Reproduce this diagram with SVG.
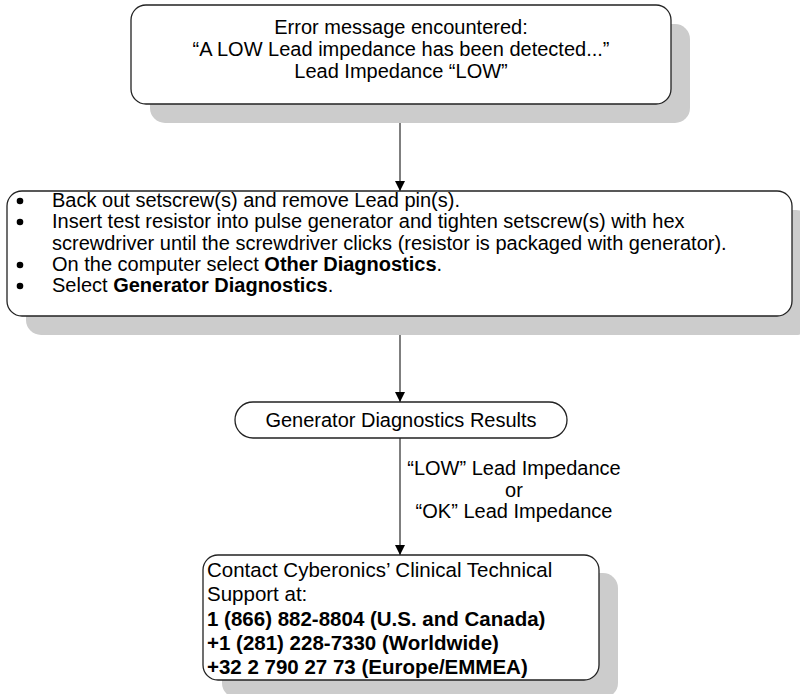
<svg xmlns="http://www.w3.org/2000/svg" width="800" height="694" viewBox="0 0 800 694">
<defs>
<style>
.box{fill:#fff;stroke:#222;stroke-width:1.3}
.sh{fill:#cccccc;stroke:none}
.t{font-family:"Liberation Sans",Arial,sans-serif;font-size:20px;fill:#000}
.t4{font-size:20.5px}
.c{text-anchor:middle}
.b{font-weight:bold}
.con{stroke:#555;stroke-width:1.5;fill:none}
</style>
<marker id="arr" markerWidth="12" markerHeight="12" refX="11" refY="6" orient="auto" markerUnits="userSpaceOnUse">
<path d="M1,1 L11,6 L1,11 Z" fill="#000"/>
</marker>
</defs>
<rect width="800" height="694" fill="#fff"/>
<g id="connectors">
<line class="con" x1="400" y1="104" x2="400" y2="191" marker-end="url(#arr)"/>
<line class="con" x1="400" y1="316" x2="400" y2="402" marker-end="url(#arr)"/>
<line class="con" x1="400" y1="438" x2="400" y2="555" marker-end="url(#arr)"/>
<text class="t c" x="514" y="475">“LOW” Lead Impedance</text>
<text class="t c" x="514" y="497">or</text>
<text class="t c" x="514" y="518">“OK” Lead Impedance</text>
</g>
<g id="n1">
<rect class="sh" x="150" y="24" width="540" height="99" rx="15"/>
<rect class="box" x="131" y="5" width="540" height="99" rx="15"/>
<text class="t c" x="401" y="34">Error message encountered:</text>
<text class="t c" x="401" y="56">“A LOW Lead impedance has been detected...”</text>
<text class="t c" x="401" y="78">Lead Impedance “LOW”</text>
</g>
<g id="n2">
<rect class="sh" x="26" y="210" width="785" height="125" rx="15"/>
<rect class="box" x="7" y="191" width="785" height="125" rx="15"/>
<circle cx="20" cy="201" r="3.3"/>
<circle cx="20" cy="222" r="3.3"/>
<circle cx="20" cy="265" r="3.3"/>
<circle cx="20" cy="286" r="3.3"/>
<text class="t" x="52" y="207">Back out setscrew(s) and remove Lead pin(s).</text>
<text class="t" x="52" y="228">Insert test resistor into pulse generator and tighten setscrew(s) with hex</text>
<text class="t" x="52" y="250">screwdriver until the screwdriver clicks (resistor is packaged with generator).</text>
<text class="t" x="52" y="271">On the computer select <tspan class="b">Other Diagnostics</tspan>.</text>
<text class="t" x="52" y="292">Select <tspan class="b">Generator Diagnostics</tspan>.</text>
</g>
<g id="n3">
<rect class="box" x="235" y="402" width="332" height="36" rx="18"/>
<text class="t c" x="401" y="427">Generator Diagnostics Results</text>
</g>
<g id="n4">
<rect class="sh" x="222" y="573" width="396" height="125" rx="15"/>
<rect class="box" x="203" y="555" width="396" height="125" rx="15"/>
<text class="t t4" x="207" y="577">Contact Cyberonics’ Clinical Technical</text>
<text class="t t4" x="207" y="601">Support at:</text>
<text class="t t4 b" x="207" y="626">1 (866) 882-8804 (U.S. and Canada)</text>
<text class="t t4 b" x="207" y="650">+1 (281) 228-7330 (Worldwide)</text>
<text class="t t4 b" x="207" y="674">+32 2 790 27 73 (Europe/EMMEA)</text>
</g>
</svg>
